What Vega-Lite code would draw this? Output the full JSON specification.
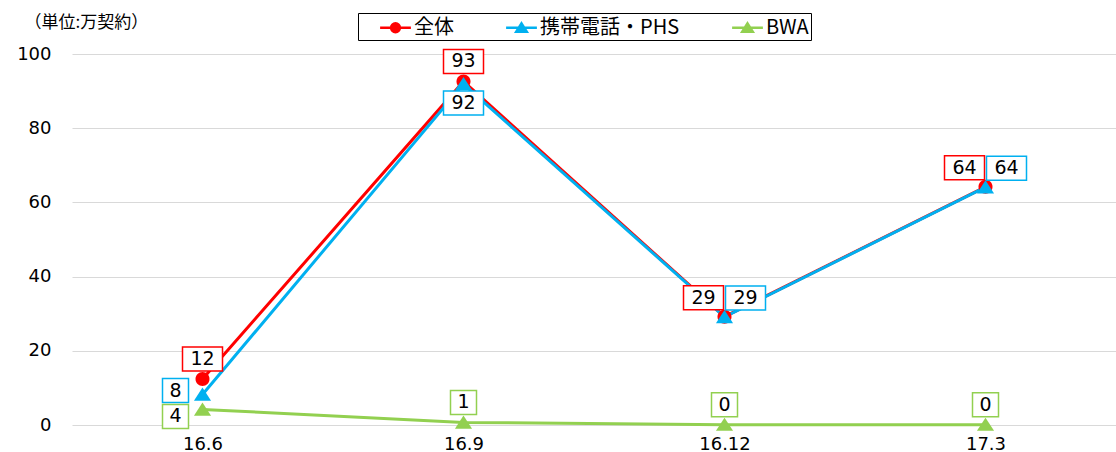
{
  "$schema": "https://vega.github.io/schema/vega-lite/v6.json",
  "autosize": "none",
  "width": 1044,
  "height": 371,
  "padding": {"left": 72, "top": 54, "right": 0, "bottom": 27},
  "background": "white",
  "config": {"view": {"stroke": null}, "font": "DejaVu Sans"},
  "data": {"values": [
    {"date": "16.6", "series": "全体", "value": 12.4},
    {"date": "16.9", "series": "全体", "value": 92.6},
    {"date": "16.12", "series": "全体", "value": 29.2},
    {"date": "17.3", "series": "全体", "value": 64.2},
    {"date": "16.6", "series": "携帯電話・PHS", "value": 8.2},
    {"date": "16.9", "series": "携帯電話・PHS", "value": 91.9},
    {"date": "16.12", "series": "携帯電話・PHS", "value": 29.1},
    {"date": "17.3", "series": "携帯電話・PHS", "value": 64.1},
    {"date": "16.6", "series": "BWA", "value": 4.2},
    {"date": "16.9", "series": "BWA", "value": 0.7},
    {"date": "16.12", "series": "BWA", "value": 0.1},
    {"date": "17.3", "series": "BWA", "value": 0.1}
  ]},
  "encoding": {
    "x": {"field": "date", "type": "ordinal", "sort": ["16.6", "16.9", "16.12", "17.3"], "scale": {"type": "point", "padding": 0.5},
      "axis": {"title": null, "labelAngle": 0, "domain": false, "ticks": false, "tickSize": 0, "labelPadding": 10, "labelFontSize": 18, "labelColor": "#000", "labelFont": "DejaVu Sans", "grid": false}},
    "y": {"field": "value", "type": "quantitative", "scale": {"domain": [0, 100]}, "title": "（単位:万契約）",
      "axis": {"values": [0, 20, 40, 60, 80, 100], "domain": false, "ticks": false, "tickSize": 0, "labelPadding": 21, "labelFontSize": 18, "labelColor": "#000", "labelFont": "DejaVu Sans", "gridColor": "#d9d9d9", "gridWidth": 1,
        "titleAngle": 0, "titleAlign": "left", "titleBaseline": "middle", "titleX": -48, "titleY": -32, "titleFont": "Noto Sans CJK JP", "titleFontSize": 17, "titleFontWeight": "normal", "titleColor": "#000"}}
  },
  "layer": [
    {
      "transform": [{"filter": "false"}],
      "mark": {"type": "point", "filled": false, "size": 484, "opacity": 1, "strokeWidth": 2.5},
      "encoding": {
        "color": {"field": "series", "type": "nominal", "scale": {"domain": ["全体", "携帯電話・PHS", "BWA"], "range": ["#FF0000", "#00B0F0", "#92D050"]},
          "legend": {"title": null, "orient": "none", "legendX": 286, "legendY": -41, "direction": "horizontal", "strokeColor": "#000", "fillColor": "white", "padding": 2, "columnPadding": 32, "symbolSize": 484, "symbolOffset": 23, "symbolStrokeWidth": 2.5, "symbolOpacity": 1, "labelFontSize": 20, "labelFont": "Noto Sans CJK JP", "labelColor": "#000", "labelOffset": 6}},
        "shape": {"field": "series", "type": "nominal", "scale": {"domain": ["全体", "携帯電話・PHS", "BWA"], "range": [
            "M-1.4,0H1.4M0.4,0A0.4,0.4,0,1,1,-0.4,0A0.4,0.4,0,1,1,0.4,0ZM0.28,0A0.28,0.28,0,1,1,-0.28,0A0.28,0.28,0,1,1,0.28,0ZM0.16,0A0.16,0.16,0,1,1,-0.16,0A0.16,0.16,0,1,1,0.16,0ZM0.05,0A0.05,0.05,0,1,1,-0.05,0A0.05,0.05,0,1,1,0.05,0Z",
            "M-1.4,0H1.4M0,-0.4L0.48,0.36L-0.48,0.36ZM0,-0.22L0.3,0.26L-0.3,0.26ZM0,-0.05L0.12,0.16L-0.12,0.16Z",
            "M-1.4,0H1.4M0,-0.4L0.48,0.36L-0.48,0.36ZM0,-0.22L0.3,0.26L-0.3,0.26ZM0,-0.05L0.12,0.16L-0.12,0.16Z"]},
          "legend": {"title": null, "orient": "none", "legendX": 286, "legendY": -41, "direction": "horizontal", "strokeColor": "#000", "fillColor": "white", "padding": 2, "columnPadding": 32, "symbolSize": 484, "symbolOffset": 23, "symbolStrokeWidth": 2.5, "symbolOpacity": 1, "labelFontSize": 20, "labelFont": "Noto Sans CJK JP", "labelColor": "#000", "labelOffset": 6}}
      }
    },
    {
      "mark": {"type": "line", "strokeWidth": 3},
      "encoding": {
        "stroke": {"field": "series", "type": "nominal", "scale": {"domain": ["BWA", "携帯電話・PHS", "全体"], "range": ["#92D050", "#00B0F0", "#FF0000"]}, "legend": null}
      }
    },
    {
      "transform": [{"filter": "datum.series == '全体'"}],
      "mark": {"type": "point", "filled": true, "size": 968, "opacity": 1, "color": "#FF0000", "shape": "M0.45,0A0.45,0.45,0,1,1,-0.45,0A0.45,0.45,0,1,1,0.45,0Z"}
    },
    {
      "transform": [{"filter": "datum.series == '携帯電話・PHS'"}],
      "mark": {"type": "point", "filled": true, "size": 968, "opacity": 1, "color": "#00B0F0", "shape": "M0,-0.45L0.55,0.4L-0.55,0.4Z"}
    },
    {
      "transform": [{"filter": "datum.series == 'BWA'"}],
      "mark": {"type": "point", "filled": true, "size": 968, "opacity": 1, "color": "#92D050", "shape": "M0,-0.45L0.55,0.4L-0.55,0.4Z"}
    },
    {
      "transform": [{"filter": "(datum.series == '全体' && (datum.date == '16.6' || datum.date == '16.9')) || (datum.series == 'BWA' && datum.date != '16.6')"}],
      "layer": [
        {"mark": {"type": "point", "filled": false, "fill": "white", "fillOpacity": 1, "opacity": 1, "size": 1600, "strokeWidth": 1.5, "yOffset": -20},
         "encoding": {"stroke": {"field": "series", "type": "nominal", "legend": null},
           "shape": {"condition": {"test": "datum.value >= 9.5", "value": "M-1,-0.6H1V0.6H-1Z"}, "value": "M-0.65,-0.6H0.65V0.6H-0.65Z"}}},
        {"mark": {"type": "text", "fontSize": 19, "font": "DejaVu Sans", "color": "#000", "baseline": "middle", "align": "center", "yOffset": -20},
         "encoding": {"text": {"field": "value", "type": "quantitative", "format": ".0f"}}}
      ]
    },
    {
      "transform": [{"filter": "datum.series == '携帯電話・PHS' && datum.date == '16.9'"}],
      "layer": [
        {"mark": {"type": "point", "filled": false, "fill": "white", "fillOpacity": 1, "opacity": 1, "size": 1600, "strokeWidth": 1.5, "yOffset": 19},
         "encoding": {"stroke": {"field": "series", "type": "nominal", "legend": null},
           "shape": {"condition": {"test": "datum.value >= 9.5", "value": "M-1,-0.6H1V0.6H-1Z"}, "value": "M-0.65,-0.6H0.65V0.6H-0.65Z"}}},
        {"mark": {"type": "text", "fontSize": 19, "font": "DejaVu Sans", "color": "#000", "baseline": "middle", "align": "center", "yOffset": 19},
         "encoding": {"text": {"field": "value", "type": "quantitative", "format": ".0f"}}}
      ]
    },
    {
      "transform": [{"filter": "datum.series == '全体' && (datum.date == '16.12' || datum.date == '17.3')"}],
      "layer": [
        {"mark": {"type": "point", "filled": false, "fill": "white", "fillOpacity": 1, "opacity": 1, "size": 1600, "strokeWidth": 1.5, "xOffset": -21, "yOffset": -19},
         "encoding": {"stroke": {"field": "series", "type": "nominal", "legend": null},
           "shape": {"condition": {"test": "datum.value >= 9.5", "value": "M-1,-0.6H1V0.6H-1Z"}, "value": "M-0.65,-0.6H0.65V0.6H-0.65Z"}}},
        {"mark": {"type": "text", "fontSize": 19, "font": "DejaVu Sans", "color": "#000", "baseline": "middle", "align": "center", "xOffset": -21, "yOffset": -19},
         "encoding": {"text": {"field": "value", "type": "quantitative", "format": ".0f"}}}
      ]
    },
    {
      "transform": [{"filter": "datum.series == '携帯電話・PHS' && (datum.date == '16.12' || datum.date == '17.3')"}],
      "layer": [
        {"mark": {"type": "point", "filled": false, "fill": "white", "fillOpacity": 1, "opacity": 1, "size": 1600, "strokeWidth": 1.5, "xOffset": 21, "yOffset": -19},
         "encoding": {"stroke": {"field": "series", "type": "nominal", "legend": null},
           "shape": {"condition": {"test": "datum.value >= 9.5", "value": "M-1,-0.6H1V0.6H-1Z"}, "value": "M-0.65,-0.6H0.65V0.6H-0.65Z"}}},
        {"mark": {"type": "text", "fontSize": 19, "font": "DejaVu Sans", "color": "#000", "baseline": "middle", "align": "center", "xOffset": 21, "yOffset": -19},
         "encoding": {"text": {"field": "value", "type": "quantitative", "format": ".0f"}}}
      ]
    },
    {
      "transform": [{"filter": "datum.series == '携帯電話・PHS' && datum.date == '16.6'"}],
      "layer": [
        {"mark": {"type": "point", "filled": false, "fill": "white", "fillOpacity": 1, "opacity": 1, "size": 1600, "strokeWidth": 1.5, "xOffset": -27, "yOffset": -4},
         "encoding": {"stroke": {"field": "series", "type": "nominal", "legend": null},
           "shape": {"condition": {"test": "datum.value >= 9.5", "value": "M-1,-0.6H1V0.6H-1Z"}, "value": "M-0.65,-0.6H0.65V0.6H-0.65Z"}}},
        {"mark": {"type": "text", "fontSize": 19, "font": "DejaVu Sans", "color": "#000", "baseline": "middle", "align": "center", "xOffset": -27, "yOffset": -4},
         "encoding": {"text": {"field": "value", "type": "quantitative", "format": ".0f"}}}
      ]
    },
    {
      "transform": [{"filter": "datum.series == 'BWA' && datum.date == '16.6'"}],
      "layer": [
        {"mark": {"type": "point", "filled": false, "fill": "white", "fillOpacity": 1, "opacity": 1, "size": 1600, "strokeWidth": 1.5, "xOffset": -27, "yOffset": 7},
         "encoding": {"stroke": {"field": "series", "type": "nominal", "legend": null},
           "shape": {"condition": {"test": "datum.value >= 9.5", "value": "M-1,-0.6H1V0.6H-1Z"}, "value": "M-0.65,-0.6H0.65V0.6H-0.65Z"}}},
        {"mark": {"type": "text", "fontSize": 19, "font": "DejaVu Sans", "color": "#000", "baseline": "middle", "align": "center", "xOffset": -27, "yOffset": 7},
         "encoding": {"text": {"field": "value", "type": "quantitative", "format": ".0f"}}}
      ]
    }
  ]
}
